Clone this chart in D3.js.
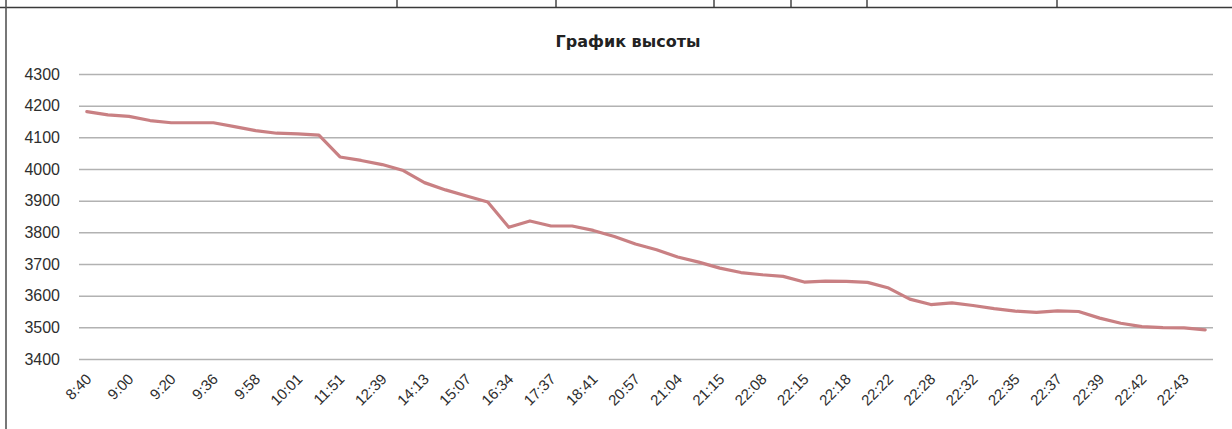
<!DOCTYPE html>
<html>
<head>
<meta charset="utf-8">
<script src="https://cdn.jsdelivr.net/npm/d3@7"></script>
<style>
	body { margin: 0; background: #fff; }
	svg { display: block; font-family: "DejaVu Sans", sans-serif; }
</style>
</head>
<body>
<div id="chart"></div>
<script>
// data
const chartTitle = 'График высоты';

// altitude, one value per reading (54 readings)
const altitude = [
	4181, 4171, 4166, 4153, 4146, 4146, 4146, 4134, 4121, 4113,
	4111, 4107, 4038, 4027, 4014, 3995, 3957, 3934, 3915, 3896,
	3816, 3836, 3820, 3820, 3806, 3787, 3763, 3745, 3722, 3706,
	3687, 3673, 3666, 3661, 3643, 3646, 3645, 3642, 3624, 3589,
	3572, 3577, 3569, 3559, 3551, 3547, 3552, 3550, 3529, 3513,
	3502, 3499, 3498, 3492
];

// category labels shown on the axis (every second reading)
const timeLabels = [
	'8:40', '9:00', '9:20', '9:36', '9:58', '10:01', '11:51', '12:39', '14:13',
	'15:07', '16:34', '17:37', '18:41', '20:57', '21:04', '21:15', '22:08', '22:15',
	'22:18', '22:22', '22:28', '22:32', '22:35', '22:37', '22:39', '22:42', '22:43'
];

const yTicks = [3400, 3500, 3600, 3700, 3800, 3900, 4000, 4100, 4200, 4300];

// dimension stuff
const width = 1232;
const height = 429;
const marginLeft = 79;
const marginRight = 19;
const marginTop = 74;
const marginBottom = 70;
const plotW = width - marginLeft - marginRight;
const plotH = height - marginTop - marginBottom;

// piece of the spreadsheet table above the chart
const tableLineY = 7.5;
const tableCols = [397, 556, 714, 791, 867, 1057];

const $svg = d3.select('#chart').append('svg')
	.attr('width', width)
	.attr('height', height);

$svg.append('rect')
	.attr('width', width)
	.attr('height', height)
	.attr('fill', '#fff');

// table border + chart frame
$svg.append('line')
	.attr('x1', 0).attr('x2', width)
	.attr('y1', tableLineY).attr('y2', tableLineY)
	.attr('stroke', '#3a3a3a')
	.attr('stroke-width', 1.6);

$svg.selectAll('.table-col')
	.data(tableCols)
	.enter()
	.append('line')
	.attr('class', 'table-col')
	.attr('x1', d => d).attr('x2', d => d)
	.attr('y1', 0).attr('y2', tableLineY)
	.attr('stroke', '#3a3a3a')
	.attr('stroke-width', 1.4);

$svg.append('line')
	.attr('x1', 6).attr('x2', 6)
	.attr('y1', 0).attr('y2', height)
	.attr('stroke', '#555')
	.attr('stroke-width', 1.6);

// title
$svg.append('text')
	.attr('x', 628)
	.attr('y', 47)
	.attr('text-anchor', 'middle')
	.attr('font-size', 16)
	.attr('font-weight', 'bold')
	.attr('fill', '#222')
	.text(chartTitle);

// scales
const scaleX = d3.scalePoint()
	.domain(d3.range(altitude.length))
	.range([0, plotW])
	.padding(0.37);

const scaleY = d3.scaleLinear()
	.domain([3400, 4300])
	.range([plotH, 0]);

const $g = $svg.append('g')
	.attr('transform', `translate(${marginLeft}, ${marginTop})`);

// gridlines + y labels
const $yAxis = $g.append('g')
	.attr('class', 'g-axis-y')
	.call(d3.axisLeft(scaleY)
		.tickValues(yTicks)
		.tickSize(-plotW)
		.tickPadding(19)
		.tickFormat(d3.format('d')));

$yAxis.select('.domain').remove();
$yAxis.selectAll('line')
	.attr('stroke', '#b2b2b2')
	.attr('stroke-width', 1.5);
$yAxis.selectAll('text')
	.style('font-size', '16px')
	.attr('fill', '#2e2e2e');

// x labels, every second reading
const $xAxis = $g.append('g')
	.attr('class', 'g-axis-x')
	.attr('transform', `translate(0, ${plotH})`)
	.call(d3.axisBottom(scaleX)
		.tickValues(d3.range(0, altitude.length, 2))
		.tickSize(0)
		.tickFormat(i => timeLabels[i / 2]));

$xAxis.select('.domain').remove();
$xAxis.selectAll('text')
	.style('font-size', '15px')
	.attr('fill', '#2e2e2e')
	.attr('text-anchor', 'end')
	.attr('dy', null)
	.attr('y', null)
	.attr('transform', 'translate(5, 21) rotate(-45)');

// line
const line = d3.line()
	.x((d, i) => scaleX(i))
	.y(d => scaleY(d));

$g.append('path')
	.datum(altitude)
	.attr('fill', 'none')
	.attr('stroke', '#c98083')
	.attr('stroke-width', 3.2)
	.attr('stroke-linejoin', 'round')
	.attr('stroke-linecap', 'round')
	.attr('d', line);
</script>
</body>
</html>
